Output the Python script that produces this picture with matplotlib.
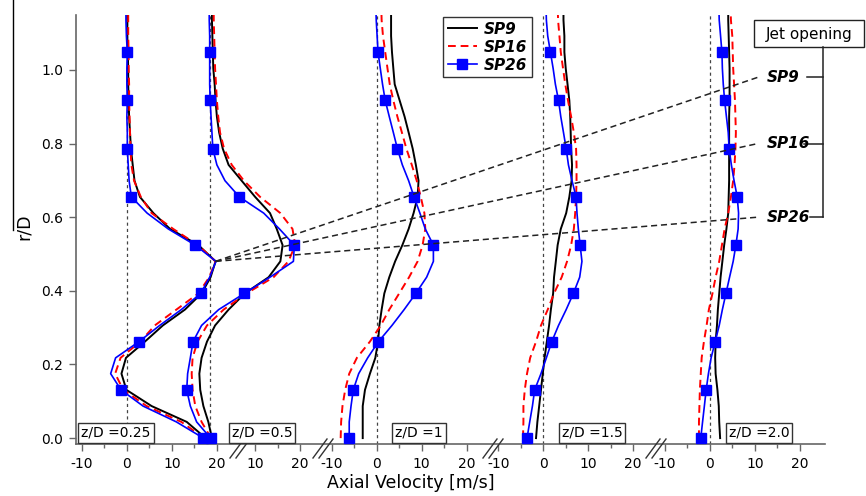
import numpy as np
import matplotlib.pyplot as plt
from matplotlib.lines import Line2D
from matplotlib.patches import Rectangle

# radial stations r/D (SP26 symbols sit on every third one)
r_grid = [0.000, 0.044, 0.087, 0.131, 0.175, 0.218, 0.262, 0.306, 0.349, 0.393,
          0.437, 0.480, 0.524, 0.568, 0.611, 0.655, 0.699, 0.742, 0.786, 0.830,
          0.873, 0.917, 0.961, 1.004, 1.048, 1.092, 1.135, 1.179]

# axial velocity [m/s] at each station, one list per profile
sp9_025 = [17.5, 13.3, 5.5, -0.1, -1.2, -0.2, 4.0, 8.0, 12.9, 16.6, 18.6, 19.7, 15.9, 9.6,
           5.9, 2.9, 1.7, 1.3, 0.9, 0.7, 0.5, 0.4, 0.3, 0.3, 0.2, 0.1, 0.1, 0.1]
sp16_025 = [17.2, 12.1, 4.4, -0.8, -2.6, -1.4, 3.0, 6.2, 11.0, 15.9, 18.3, 19.7, 15.8, 10.3,
            5.5, 3.1, 1.6, 1.0, 0.8, 0.7, 0.6, 0.5, 0.5, 0.4, 0.4, 0.3, 0.3, 0.3]
sp26_025 = [17.0, 11.0, 3.6, -1.3, -3.6, -2.5, 2.7, 7.3, 12.1, 16.4, 18.4, 19.8, 15.2, 9.2,
            4.5, 1.0, 0.5, 0.3, 0.1, 0.1, 0.0, 0.1, 0.0, 0.0, 0.1, -0.1, -0.2, -0.2]

sp9_05 = [0.4, -0.4, -1.5, -2.2, -2.4, -1.9, -0.7, 1.1, 4.1, 7.7, 13.0, 15.6, 16.1, 14.8,
          13.3, 10.0, 7.0, 4.1, 2.8, 2.0, 1.5, 1.2, 1.0, 0.7, 0.6, 0.5, 0.4, 0.4]
sp16_05 = [0.2, -1.9, -3.3, -3.9, -4.1, -3.9, -2.8, -0.7, 3.0, 8.1, 14.1, 17.4, 18.9, 18.3,
           15.6, 11.1, 7.5, 4.8, 3.1, 2.2, 1.8, 1.5, 1.3, 1.1, 1.0, 0.9, 0.8, 0.8]
sp26_05 = [0.1, -3.0, -4.4, -5.2, -5.0, -4.4, -3.8, -1.9, 1.9, 7.6, 13.3, 18.5, 18.7, 15.4,
           11.9, 6.5, 3.3, 1.5, 0.6, 0.4, 0.2, 0.0, -0.1, -0.1, -0.1, -0.1, -0.2, -0.2]

sp9_1 = [-3.1, -3.1, -3.1, -2.6, -1.5, -0.3, 0.3, 0.6, 1.1, 1.7, 2.8, 4.1, 5.7, 7.1,
         8.2, 9.1, 9.3, 8.7, 8.0, 7.1, 6.2, 5.1, 4.0, 3.7, 3.4, 3.2, 3.2, 3.2]
sp16_1 = [-8.0, -7.9, -7.6, -7.0, -6.1, -4.4, -1.5, 0.9, 2.8, 5.0, 7.2, 9.1, 10.2, 10.8,
          10.6, 9.8, 8.9, 7.8, 6.6, 5.6, 4.6, 3.7, 2.9, 2.4, 1.9, 1.4, 1.1, 1.0]
sp26_1 = [-6.1, -6.1, -5.7, -5.2, -4.0, -2.0, 0.4, 3.4, 6.1, 8.7, 11.1, 12.6, 12.6, 10.8,
          9.6, 8.3, 7.1, 5.7, 4.6, 3.7, 2.8, 1.9, 1.3, 0.8, 0.3, 0.1, -0.1, -0.2]

sp9_15 = [-1.6, -1.3, -0.9, -0.5, -0.1, 0.3, 0.8, 1.3, 1.7, 2.2, 2.4, 2.8, 3.2, 3.9,
          5.1, 5.8, 6.3, 6.4, 6.2, 6.1, 6.0, 5.8, 5.4, 5.0, 4.7, 4.7, 4.5, 4.5]
sp16_15 = [-4.5, -4.4, -4.4, -4.1, -3.6, -2.9, -1.6, -0.5, 1.0, 2.4, 4.1, 5.3, 6.2, 6.8,
           7.1, 7.3, 7.4, 7.4, 7.3, 6.8, 6.2, 5.5, 4.9, 4.4, 3.9, 3.6, 3.3, 3.2]
sp26_15 = [-3.6, -3.0, -2.4, -1.9, -0.5, 0.7, 1.9, 3.4, 5.1, 6.7, 8.1, 8.6, 8.2, 7.8,
           7.5, 7.3, 6.4, 5.6, 5.1, 4.5, 3.9, 3.4, 2.7, 2.2, 1.6, 1.0, 0.7, 0.6]

sp9_2 = [2.3, 2.1, 2.0, 1.7, 1.3, 1.2, 1.3, 1.6, 1.8, 2.1, 2.4, 2.8, 3.2, 3.7,
         4.1, 4.2, 4.3, 4.3, 4.3, 4.3, 4.3, 4.4, 4.4, 4.4, 4.3, 4.2, 4.1, 4.1]
sp16_2 = [-2.4, -2.4, -2.3, -2.2, -2.0, -1.8, -1.3, -0.7, -0.2, 0.6, 1.3, 2.1, 2.7, 3.3,
          4.1, 4.7, 5.2, 5.5, 5.7, 5.8, 5.7, 5.6, 5.4, 5.2, 5.1, 5.0, 4.7, 4.6]
sp26_2 = [-2.0, -1.6, -1.2, -0.8, -0.3, 0.3, 1.2, 2.1, 2.8, 3.6, 4.4, 5.2, 5.8, 6.3,
          6.4, 6.1, 5.4, 4.8, 4.3, 4.1, 3.7, 3.3, 3.0, 2.8, 2.7, 2.4, 2.1, 2.0]

panel_labels = ['z/D =0.25', 'z/D =0.5', 'z/D =1', 'z/D =1.5', 'z/D =2.0']
sp9 = [sp9_025, sp9_05, sp9_1, sp9_15, sp9_2]
sp16 = [sp16_025, sp16_05, sp16_1, sp16_15, sp16_2]
sp26 = [sp26_025, sp26_05, sp26_1, sp26_15, sp26_2]

# x tick values shown under each profile
major_ticks = [[-10, 0, 10, 20], [10, 20], [-10, 0, 10, 20], [-10, 0, 10, 20], [-10, 0, 10, 20]]
minor_ticks = [[-5, 5, 15], [15], [-5, 5, 15], [-5, 5, 15], [-5, 5, 15]]

# jet opening lines: r/D where each line meets its label
jet_names = ['SP9', 'SP16', 'SP26']
jet_r = [0.98, 0.80, 0.60]

# horizontal shift of each profile on the shared axis
offsets = [0, 18.5, 55.5, 92.5, 129.5]

W, H = 866, 496
fig = plt.figure(figsize=(W / 100, H / 100), dpi=100)
ax = fig.add_axes([76 / W, 1 - 444 / H, (825 - 76) / W, (444 - 15) / H])

def fx(px):
    return px / W

def fy(py):
    return 1 - py / H

def ux(px):
    # pixel column -> shared x axis units (4.5 px per m/s, zero of first profile at 127 px)
    return (px - 127) / 4.5

for i, off in enumerate(offsets):
    ax.axvline(off, color='#444444', ls=(0, (2.5, 2.5)), lw=0.9, zorder=1)
    ax.plot(off + np.array(sp9[i]), r_grid, color='black', lw=1.4,
            label='SP9' if i == 0 else None, zorder=3)
    ax.plot(off + np.array(sp16[i]), r_grid, color='#ff0000', lw=1.4, ls=(0, (4, 2.5)),
            label='SP16' if i == 0 else None, zorder=3)
    ax.plot(off + np.array(sp26[i]), r_grid, color='#0000ff', lw=1.2, marker='s', ms=6.5,
            markevery=(0, 3), label='SP26' if i == 0 else None, zorder=4)

ax.set_xlim(-11.3, 155.1)
ax.set_ylim(-0.016, 1.149)

xt, xl, xm = [], [], []
for off, ticks, mins in zip(offsets, major_ticks, minor_ticks):
    xt += [off + t for t in ticks]
    xl += [str(t) for t in ticks]
    xm += [off + t for t in mins]
ax.set_xticks(xt)
ax.set_xticklabels(xl)
ax.set_xticks(xm, minor=True)
ax.set_yticks([0.0, 0.2, 0.4, 0.6, 0.8, 1.0])
ax.set_yticklabels(['0.0', '0.2', '0.4', '0.6', '0.8', '1.0'])

for s in ['top', 'right']:
    ax.spines[s].set_visible(False)
for s in ['left', 'bottom']:
    ax.spines[s].set_color('#666666')
    ax.spines[s].set_linewidth(1.2)
ax.tick_params(which='major', length=5, width=1, color='#666666', labelsize=10, pad=4)
ax.tick_params(which='minor', length=3, width=1, color='#666666')

fig.text(fx(411), fy(483), 'Axial Velocity [m/s]', ha='center', va='center', fontsize=12.5)
fig.text(fx(24), fy(227), 'r/D', ha='center', va='center', rotation=90, fontsize=12.5)
fig.add_artist(Line2D([fx(13), fx(13)], [fy(0), fy(230)], color='black', lw=1))

# profile captions along the bottom
label_px = [116, 262, 419, 592, 759]
for px, lab in zip(label_px, panel_labels):
    fig.text(fx(px), fy(433), lab, ha='center', va='center', fontsize=10, zorder=6,
             bbox=dict(boxstyle='square,pad=0.22', fc='white', ec='#333333', lw=1))

# axis break marks
for cx in [240, 323, 493, 656]:
    for dx in (-3, 3):
        fig.add_artist(Line2D([fx(cx + dx - 7), fx(cx + dx + 7)], [fy(458), fy(439)],
                              color='#333333', lw=1))

# jet opening construction, fanning out from the first profile's peak
pivot_x = offsets[0] + sp9_025[11]
pivot_r = r_grid[11]
tick_px = [807, 804, 810]
brk_x = ux(822.5)
for name, rj, tp in zip(jet_names, jet_r, tick_px):
    ax.plot([pivot_x, ux(758)], [pivot_r, rj], color='#222222', ls=(0, (4, 2.5)), lw=1.1,
            clip_on=False, zorder=5)
    ax.text(ux(767), rj, name, ha='left', va='center', fontsize=11, fontweight='bold',
            fontstyle='italic', clip_on=False)
    ax.plot([ux(tp), brk_x], [rj, rj], color='#222222', lw=1.1, clip_on=False)
ax.plot([brk_x, brk_x], [jet_r[-1], (438 - 47) / 368], color='#222222', lw=1.1, clip_on=False)
fig.add_artist(Rectangle((fx(754), fy(47)), fx(864) - fx(754), fy(20) - fy(47),
                         transform=fig.transFigure, fill=False, ec='#222222', lw=1))
fig.text(fx(809), fy(34), 'Jet opening', ha='center', va='center', fontsize=11)

leg = ax.legend(loc='upper left', bbox_to_anchor=(fx(443), fy(17)), bbox_transform=fig.transFigure,
                borderaxespad=0, fancybox=False, edgecolor='#333333', framealpha=1,
                handlelength=1.9, borderpad=0.3, labelspacing=0.2, handletextpad=0.5,
                prop=dict(size=11, weight='bold', style='italic'))
leg.get_frame().set_linewidth(1)

fig.savefig('out.png', dpi=100)
